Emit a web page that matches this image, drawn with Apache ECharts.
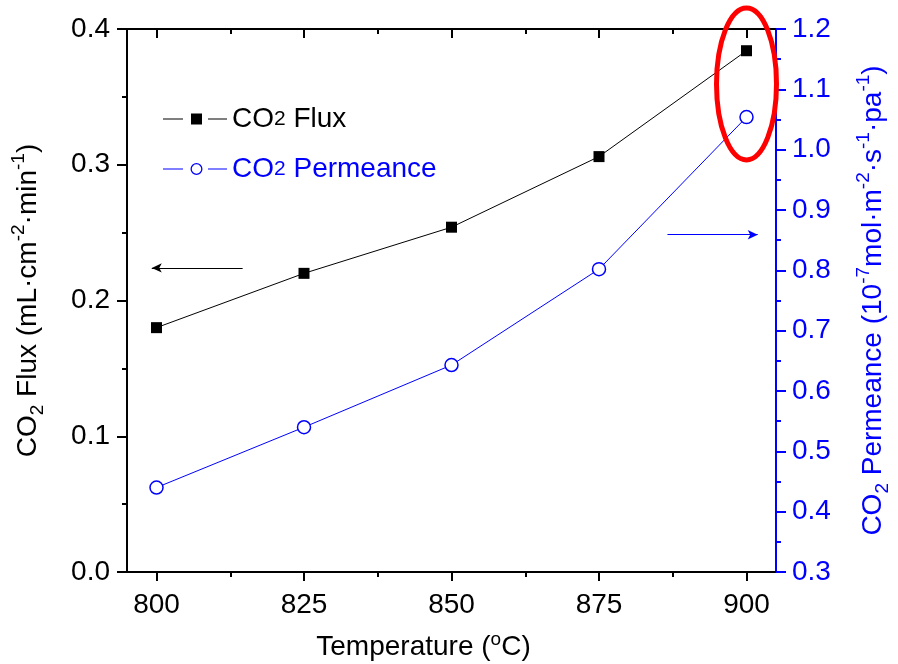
<!DOCTYPE html>
<html>
<head>
<meta charset="utf-8">
<script src="https://cdn.jsdelivr.net/npm/echarts@6/dist/echarts.min.js"></script>
<style>
html,body{margin:0;padding:0;background:#fff;}
#c{width:898px;height:664px;}
</style>
</head>
<body>
<div id="c"></div>
<script>
// ---- data ----
var temperatures = [800, 825, 850, 875, 900];
var fluxValues = [0.180, 0.220, 0.254, 0.306, 0.384];
var permeanceValues = [0.440, 0.540, 0.643, 0.802, 1.054];
var xMajorTicks = [800, 825, 850, 875, 900];
var xMinorTicks = [812.5, 837.5, 862.5, 887.5];
var fluxArrow = [[814.6, 0.224], [799.2, 0.224]];
var permArrow = [[886.6, 0.859], [901.9, 0.859]];

var FONT = '"Liberation Sans", Arial, sans-serif';
var BLUE = '#0000ff';

function pair(a){ return a.map(function(p){ return {coord: p}; }); }

var ICON_SQUARE = 'path://M0 5.5H20V6.5H0Z M28 0.5H39V11.5H28Z M45 5.5H64V6.5H45Z';
var ICON_RING = 'path://M0 5.5H20V6.5H0Z M45 5.5H64V6.5H45Z M27.5 6A6 6 0 1 0 39.5 6A6 6 0 1 0 27.5 6Z M28.8 6A4.7 4.7 0 1 1 38.2 6A4.7 4.7 0 1 1 28.8 6Z';

var chart = echarts.init(document.getElementById('c'), null, {renderer:'canvas'});

var xBase = {type:'value', min:795, max:905, gridIndex:0, splitLine:{show:false}};

var option = {
  backgroundColor:'#fff',
  animation:false,
  grid:{left:127, right:122, top:29, bottom:92, containLabel:false, outerBoundsMode:'none'},
  legend:{
    orient:'vertical', left:158, top:99, itemWidth:64, itemHeight:12, itemGap:20,
    selectedMode:false,
    textStyle:{fontFamily:FONT, fontSize:28, lineHeight:30,
      rich:{
        k:{fontFamily:FONT, fontSize:28, color:'#000'},
        ks:{fontFamily:FONT, fontSize:21, color:'#000', verticalAlign:'bottom', padding:[0,0,4,0]},
        b:{fontFamily:FONT, fontSize:28, color:BLUE},
        bs:{fontFamily:FONT, fontSize:21, color:BLUE, verticalAlign:'bottom', padding:[0,0,4,0]}
      }},
    formatter:function(name){
      return name === 'CO2 Flux' ? '{k|CO}{ks|2}{k| Flux}' : '{b|CO}{bs|2}{b| Permeance}';
    },
    data:[
      {name:'CO2 Flux', icon:ICON_SQUARE, itemStyle:{color:'#000', borderWidth:0}},
      {name:'CO2 Permeance', icon:ICON_RING, itemStyle:{color:BLUE, borderWidth:0}}
    ]
  },
  xAxis:[
    Object.assign({}, xBase, {
      position:'bottom',
      axisLine:{show:true, onZero:false, lineStyle:{color:'#000', width:2}},
      axisTick:{show:true, customValues:xMajorTicks, length:9, lineStyle:{color:'#000', width:2}},
      axisLabel:{show:true, customValues:xMajorTicks, fontFamily:FONT, fontSize:28, color:'#000', margin:19},
      name:'{n|Temperature (}{sup|o}{n|C)}',
      nameLocation:'middle', nameGap:58,
      nameTextStyle:{fontFamily:FONT, fontSize:28, color:'#000', lineHeight:34, padding:[0,56,0,0],
        rich:{n:{fontFamily:FONT, fontSize:28, color:'#000'},
              sup:{fontFamily:FONT, fontSize:19, color:'#000', verticalAlign:'top'}}}
    }),
    Object.assign({}, xBase, {
      position:'bottom',
      axisLine:{show:false, onZero:false},
      axisTick:{show:true, customValues:xMinorTicks, length:5, lineStyle:{color:'#000', width:2}},
      axisLabel:{show:false}
    }),
    Object.assign({}, xBase, {
      position:'top',
      axisLine:{show:true, onZero:false, lineStyle:{color:'#000', width:2}},
      axisTick:{show:true, inside:true, customValues:xMajorTicks, length:9, lineStyle:{color:'#000', width:2}},
      axisLabel:{show:false}
    }),
    Object.assign({}, xBase, {
      position:'top',
      axisLine:{show:false, onZero:false},
      axisTick:{show:true, inside:true, customValues:xMinorTicks, length:5, lineStyle:{color:'#000', width:2}},
      axisLabel:{show:false}
    })
  ],
  yAxis:[
    {
      type:'value', min:0, max:0.4, interval:0.1, position:'left',
      axisLine:{show:true, onZero:false, lineStyle:{color:'#000', width:2}},
      axisTick:{show:true, length:10, lineStyle:{color:'#000', width:2}},
      minorTick:{show:true, splitNumber:2, length:5, lineStyle:{color:'#000', width:2}},
      splitLine:{show:false},
      axisLabel:{fontFamily:FONT, fontSize:28, color:'#000', margin:17,
        formatter:function(v){ return v.toFixed(1); }},
      name:'{n|CO}{sub|2}{n| Flux (mL·cm}{sup|-2}{n|·min}{sup|-1}{n|)}',
      nameLocation:'middle', nameRotate:90, nameGap:80,
      nameTextStyle:{fontFamily:FONT, fontSize:28, color:'#000', lineHeight:38,
        rich:{n:{fontFamily:FONT, fontSize:28, color:'#000'},
              sub:{fontFamily:FONT, fontSize:19, color:'#000', verticalAlign:'bottom'},
              sup:{fontFamily:FONT, fontSize:19, color:'#000', verticalAlign:'top'}}}
    },
    {
      type:'value', min:0.3, max:1.2, interval:0.1, position:'right',
      axisLine:{show:true, onZero:false, lineStyle:{color:BLUE, width:2}},
      axisTick:{show:true, length:10, lineStyle:{color:BLUE, width:2}},
      minorTick:{show:true, splitNumber:2, length:5, lineStyle:{color:BLUE, width:2}},
      splitLine:{show:false},
      axisLabel:{fontFamily:FONT, fontSize:28, color:BLUE, margin:16,
        formatter:function(v){ return v.toFixed(1); }},
      name:'{n|CO}{sub|2}{n| Permeance (10}{sup|-7}{n|mol·m}{sup|-2}{n|·s}{sup|-1}{n|·pa}{sup|-1}{n|)}',
      nameLocation:'middle', nameRotate:90, nameGap:78,
      nameTextStyle:{fontFamily:FONT, fontSize:28, color:BLUE, lineHeight:38,
        rich:{n:{fontFamily:FONT, fontSize:28, color:BLUE},
              sub:{fontFamily:FONT, fontSize:19, color:BLUE, verticalAlign:'bottom'},
              sup:{fontFamily:FONT, fontSize:19, color:BLUE, verticalAlign:'top'}}}
    }
  ],
  series:[
    {
      name:'CO2 Flux', type:'line', xAxisIndex:0, yAxisIndex:0,
      data:temperatures.map(function(t,i){ return [t, fluxValues[i]]; }),
      symbol:'rect', symbolSize:11, showAllSymbol:true,
      itemStyle:{color:'#000'}, lineStyle:{color:'#000', width:1},
      markLine:{silent:true, symbol:['none','arrow'], symbolSize:[7,10],
        lineStyle:{color:'#000', width:1, type:'solid'}, label:{show:false},
        data:[pair(fluxArrow)]}
    },
    {
      name:'CO2 Permeance', type:'line', xAxisIndex:0, yAxisIndex:1,
      data:temperatures.map(function(t,i){ return [t, permeanceValues[i]]; }),
      symbol:'circle', symbolSize:13, showAllSymbol:true,
      itemStyle:{color:'#fff', borderColor:BLUE, borderWidth:1.5},
      lineStyle:{color:BLUE, width:1},
      markLine:{silent:true, symbol:['none','arrow'], symbolSize:[7,10],
        lineStyle:{color:BLUE, width:1, type:'solid'}, label:{show:false},
        data:[pair(permArrow)]}
    }
  ]
};
chart.setOption(option);

// red ellipse around the 900 °C points
var last = temperatures.length - 1;
var p1 = chart.convertToPixel({seriesIndex:0}, [temperatures[last], fluxValues[last]]);
var p2 = chart.convertToPixel({seriesIndex:1}, [temperatures[last], permeanceValues[last]]);
chart.setOption({
  graphic:[{
    type:'ellipse', z:100, silent:true,
    shape:{cx:(p1[0]+p2[0])/2, cy:(p1[1]+p2[1])/2, rx:30, ry:76},
    style:{fill:'none', stroke:'#ff0000', lineWidth:5}
  }]
});
</script>
</body>
</html>
